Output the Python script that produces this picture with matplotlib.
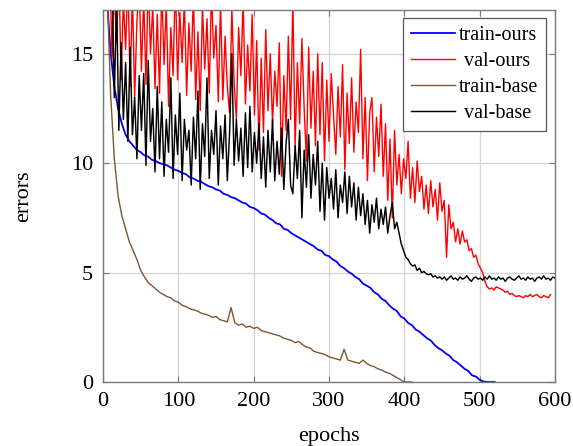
import numpy as np
import matplotlib
matplotlib.use("Agg")
import matplotlib.pyplot as plt

# --- data (errors per epoch) ---
# train curves sampled every 5 epochs, validation curves every 3 epochs
train_ours = [22.0, 17.6, 15.1, 13.5, 12.5, 11.8, 11.3, 11.0, 10.8, 10.6,
              10.5, 10.35, 10.3, 10.15, 10.1, 10.0, 9.95, 9.9, 9.8, 9.7,
              9.65, 9.55, 9.5, 9.35, 9.3, 9.2, 9.15, 9.05, 8.95, 8.9,
              8.8, 8.75, 8.6, 8.55, 8.45, 8.4, 8.3, 8.2, 8.15, 8.0,
              7.95, 7.85, 7.7, 7.65, 7.5, 7.4, 7.25, 7.2, 7.0, 6.95,
              6.8, 6.7, 6.6, 6.5, 6.4, 6.3, 6.2, 6.05, 6.0, 5.8,
              5.75, 5.6, 5.5, 5.3, 5.2, 5.05, 4.95, 4.8, 4.7, 4.5,
              4.4, 4.3, 4.1, 4.0, 3.8, 3.7, 3.5, 3.35, 3.25, 3.0,
              2.9, 2.7, 2.6, 2.4, 2.3, 2.15, 2.0, 1.9, 1.7, 1.55,
              1.45, 1.3, 1.2, 1.0, 0.9, 0.75, 0.6, 0.5, 0.3, 0.25,
              0.1, 0.02, 0.0, 0.0, 0.0, -0.3]

train_base = [25.0, 18.5, 13.2, 10.2, 8.5, 7.6, 7.0, 6.4, 6.0, 5.6,
              5.1, 4.8, 4.55, 4.4, 4.25, 4.1, 4.0, 3.9, 3.85, 3.7,
              3.65, 3.5, 3.45, 3.35, 3.3, 3.25, 3.15, 3.1, 3.05, 2.95,
              3.0, 2.85, 2.8, 2.75, 3.4, 2.7, 2.6, 2.65, 2.5, 2.55,
              2.45, 2.5, 2.35, 2.3, 2.25, 2.2, 2.15, 2.1, 2.0, 1.95,
              1.9, 1.8, 1.85, 1.7, 1.6, 1.55, 1.4, 1.35, 1.3, 1.25,
              1.15, 1.1, 1.05, 1.0, 1.5, 1.0, 0.95, 0.9, 0.85, 1.0,
              0.85, 0.75, 0.7, 0.6, 0.55, 0.45, 0.4, 0.3, 0.2, 0.1,
              0.0, 0.0, 0.0]

val_ours = [25.0, 21.0, 17.5, 19.0, 14.8, 18.0, 15.5, 19.0, 13.8, 17.5,
            15.2, 18.5, 13.5, 17.8, 13.0, 16.5, 18.2, 14.2, 17.6, 13.6,
            18.5, 15.0, 17.2, 13.4, 16.8, 13.2, 18.0, 14.5, 17.3, 12.6,
            16.2, 14.0, 18.4, 13.8, 16.9, 14.6, 17.5, 13.1, 16.4, 14.2,
            17.8, 12.9, 16.0, 12.4, 17.2, 14.3, 16.6, 13.2, 18.0, 14.8,
            16.3, 12.8, 17.4, 12.9, 15.8, 13.5, 12.3, 17.1, 13.7, 12.0,
            16.2, 14.0, 17.5, 12.7, 15.4, 13.3, 16.8, 12.2, 15.6, 10.6,
            14.8, 11.4, 16.1, 12.4, 15.0, 11.8, 14.2, 12.6, 15.5, 9.4,
            14.0, 11.5, 15.8, 12.0, 17.5, 10.7, 14.6, 11.8, 15.7, 12.5,
            10.1, 15.3, 11.6, 14.2, 10.8, 15.0, 11.3, 14.6, 10.1, 13.8,
            11.0, 14.1, 12.2, 10.4, 13.5, 11.2, 14.5, 9.7, 13.2, 10.9,
            13.9, 10.5, 12.8, 11.4, 15.2, 10.2, 13.0, 9.2, 12.3, 13.0,
            9.6, 12.1, 10.3, 12.7, 9.4, 11.8, 8.3, 11.1, 7.5, 11.5,
            9.0, 10.4, 8.6, 10.2, 9.3, 11.0, 8.4, 9.8, 8.2, 10.1,
            8.7, 9.4, 7.9, 9.0, 7.7, 9.2, 8.0, 8.8, 7.4, 9.1,
            7.8, 8.3, 5.7, 8.1, 7.0, 7.3, 6.4, 7.0, 6.3, 6.9,
            6.4, 6.5, 6.0, 6.1, 5.7, 5.8, 5.4, 5.2, 5.0, 4.6,
            4.35, 4.25, 4.3, 4.2, 4.35, 4.3, 4.25, 4.2, 4.1, 4.15,
            4.0, 4.05, 3.95, 3.9, 3.95, 3.9, 3.85, 3.95, 3.9, 4.0,
            3.9, 3.95, 4.0, 3.9, 3.85, 3.95, 3.9, 3.85, 4.0]

val_base = [25.0, 21.0, 18.5, 17.5, 18.2, 13.0, 17.5, 11.5, 15.5, 12.0,
            14.6, 11.0, 15.3, 11.3, 13.0, 10.2, 14.0, 11.5, 14.1, 9.9,
            14.7, 11.0, 12.5, 9.6, 13.5, 10.2, 12.8, 9.4, 12.0, 10.5,
            13.9, 9.3, 12.2, 10.4, 13.2, 9.2, 12.0, 10.6, 11.5, 9.0,
            12.1, 10.2, 13.3, 8.8, 11.8, 10.3, 13.9, 9.3, 11.5, 10.4,
            12.4, 9.0, 11.7, 10.2, 12.2, 9.2, 11.4, 15.0, 9.9, 12.0,
            10.1, 11.6, 9.4, 12.3, 9.8, 12.6, 9.6, 11.4, 10.0, 11.8,
            9.3, 11.2, 8.9, 11.5, 9.6, 12.0, 9.2, 11.0, 9.5, 11.6,
            8.8, 10.9, 12.0, 9.0, 8.6, 10.8, 9.3, 11.5, 7.5, 10.6,
            8.9, 11.3, 8.4, 10.4, 9.0, 11.0, 7.8, 10.0, 7.4, 9.8,
            8.4, 9.3, 7.9, 9.7, 7.5, 9.0, 8.2, 9.6, 7.7, 9.4,
            8.0, 9.1, 7.4, 8.9, 7.6, 8.6, 7.2, 8.3, 6.8, 8.1,
            7.3, 8.4, 7.0, 7.9, 7.2, 8.0, 6.8, 7.6, 8.2, 7.0,
            7.3, 6.8, 6.3, 6.0, 5.7, 5.6, 5.4, 5.3, 5.35, 5.1,
            5.2, 5.0, 5.05, 4.95, 4.9, 4.95, 4.8, 4.85, 4.75, 4.8,
            4.7, 4.8, 4.65, 4.75, 4.85, 4.7, 4.75, 4.65, 4.8, 4.7,
            4.75, 4.85, 4.7, 4.6, 4.75, 4.8, 4.7, 4.75, 4.65, 4.8,
            4.7, 4.85, 4.7, 4.75, 4.65, 4.8, 4.7, 4.75, 4.6, 4.75,
            4.8, 4.7, 4.65, 4.75, 4.85, 4.7, 4.75, 4.65, 4.8, 4.7,
            4.75, 4.6, 4.75, 4.8, 4.7, 4.85, 4.7, 4.75, 4.65, 4.8,
            4.75]

labels = ["train-ours", "val-ours", "train-base", "val-base"]
colors = ["#0000ff", "#ff0000", "#80562f", "#000000"]
x_ticks = [0, 100, 200, 300, 400, 500, 600]
y_ticks = [0, 5, 10, 15]

ep_train_ours = np.arange(len(train_ours)) * 5
ep_train_base = np.arange(len(train_base)) * 5
ep_val_ours = np.arange(len(val_ours)) * 3
ep_val_base = np.arange(len(val_base)) * 3

plt.rcParams["font.family"] = ["Liberation Serif", "DejaVu Serif"]

fig = plt.figure(figsize=(5.73, 4.46), dpi=100)
ax = fig.add_axes([0.1798, 0.1435, 0.7888, 0.8341])

# same drawing order as the legend
ax.plot(ep_train_ours, train_ours, color=colors[0], lw=1.3, label=labels[0])
ax.plot(ep_val_ours, val_ours, color=colors[1], lw=1.0, label=" " + labels[1])
ax.plot(ep_train_base, train_base, color=colors[2], lw=1.0, label=labels[2])
ax.plot(ep_val_base, val_base, color=colors[3], lw=1.05, label=" " + labels[3])

ax.set_xlim(0, 600)
ax.set_ylim(0, 17)
ax.set_xticks(x_ticks)
ax.set_yticks(y_ticks)
ax.grid(True, color="#d4d4d4", lw=0.9)
ax.set_axisbelow(True)
for s in ax.spines.values():
    s.set_color("#7a7a7a")
    s.set_linewidth(1.0)
ax.tick_params(direction="in", length=4, color="#7a7a7a", labelsize=16,
               top=True, right=True, pad=7)

ax.set_xlabel("epochs", fontsize=16, va="top")
ax.xaxis.set_label_coords(0.5, -0.121)
ax.set_ylabel("errors", fontsize=16)
ax.yaxis.set_label_coords(-0.155, 0.5)

leg = ax.legend(loc="upper right", bbox_to_anchor=(0.981, 0.979), fontsize=14.5,
                fancybox=False, framealpha=1, edgecolor="#555555",
                handlelength=2.2, handletextpad=0.2, labelspacing=0.35,
                borderpad=0.4, borderaxespad=0)
leg.get_frame().set_linewidth(0.9)

fig.savefig("out.png", dpi=100)
plt.close(fig)
